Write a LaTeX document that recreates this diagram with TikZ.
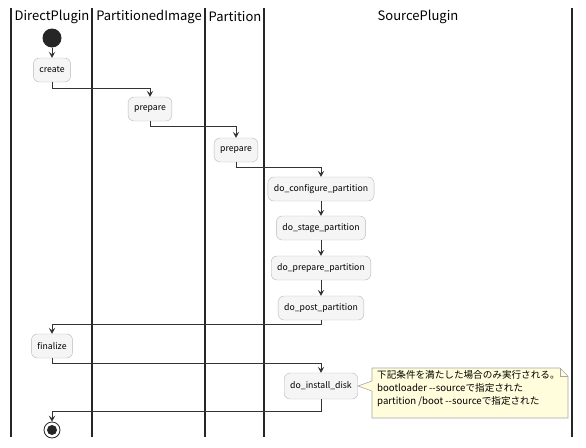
\documentclass[tikz,border=0pt]{standalone}
\usepackage{fontspec}
\setmainfont{Noto Sans CJK JP}
\usetikzlibrary{arrows.meta}

\tikzset{
  act/.style={draw=gray!55, fill=gray!8, rounded corners=6pt, minimum height=24pt,
    inner xsep=6pt, font=\fontsize{8.7}{10}\selectfont},
  flow/.style={-{Stealth[length=6pt,width=6.5pt,inset=2.5pt]}, line width=0.8pt, draw=black!80},
  lane/.style={line width=1.2pt, draw=black!85},
  head/.style={font=\fontsize{13}{16}\selectfont},
}

\begin{document}
\begin{tikzpicture}[x=1pt,y=-1pt]
\useasboundingbox (0,0) rectangle (586,447);

% swimlanes
\foreach \lx in {11,92,205,264,572}
  \draw[lane] (\lx,8) -- (\lx,437);

\node[head] (hDirect) at (52,17) {DirectPlugin};
\node[head] (hImage) at (149,17) {PartitionedImage};
\node[head] (hPart) at (235,17) {Partition};
\node[head] (hSource) at (418,17) {SourcePlugin};

% activities
\node[circle, fill=black!85, minimum size=19pt, inner sep=0pt] (start) at (52,38) {};
\node[act] (create) at (52,70) {create};
\node[act] (prepImage) at (150,109) {prepare};
\node[act] (prepPart) at (236,150) {prepare};
\node[act] (configure) at (321,189) {do\_configure\_partition};
\node[act] (stage) at (321,228) {do\_stage\_partition};
\node[act] (prepSource) at (321,268) {do\_prepare\_partition};
\node[act] (post) at (321,308) {do\_post\_partition};
\node[act] (finalize) at (52,346) {finalize};
\node[act, minimum height=26pt] (install) at (321,386) {do\_install\_disk};
\node[circle, draw=black!85, line width=0.8pt, minimum size=16pt, inner sep=0pt] (stop) at (52,430) {};
\fill[black!85] (stop) circle (5pt);

% flow
\draw[flow] (start) -- (create);
\draw[flow] (create.south) -- ++(0,6) -| (prepImage.north);
\draw[flow] (prepImage.south) -- ++(0,5) -| (prepPart.north);
\draw[flow] (prepPart.south) -- ++(0,5) -| (configure.north);
\draw[flow] (configure) -- (stage);
\draw[flow] (stage) -- (prepSource);
\draw[flow] (prepSource) -- (post);
\draw[flow] (post.south) -- ++(0,4) -| (finalize.north);
\draw[flow] (finalize.south) -- ++(0,5) -| (install.north);
\draw[flow] (install.south) -- ++(0,12) -| (stop.north);

% note
\coordinate (nTL) at (372,368);
\coordinate (nBR) at (568,418);
\draw[draw=gray!70, fill=yellow!14, line width=0.6pt]
  (nTL) -- (560,368) -- (568,376) -- (nBR) -- (372,418) -- (372,391)
  -- (install.east) -- (372,381) -- cycle;
\draw[draw=gray!70, line width=0.6pt] (560,368) -- (560,376) -- (568,376);
\node[anchor=north west, align=left, inner sep=0pt,
  font=\fontsize{9.6}{13}\selectfont] (noteText) at (377,370)
  {下記条件を満たした場合のみ実行される。\\
   bootloader -{}-sourceで指定された\\
   partition /boot -{}-sourceで指定された};
\end{tikzpicture}
\end{document}
